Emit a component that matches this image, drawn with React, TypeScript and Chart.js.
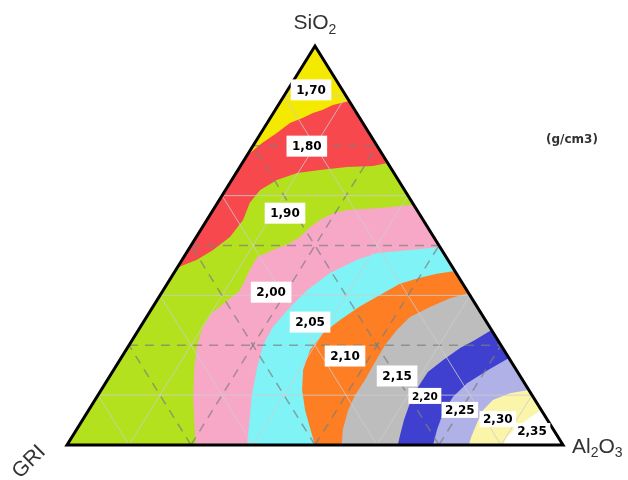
import { useEffect, useRef } from "react";
import { Chart, registerables } from "chart.js";

Chart.register(...registerables);

// Ternary compositions as [Al2O3 %, SiO2 %]; GRI % = 100 - Al2O3 - SiO2
const densityLabels = ["1,70", "1,80", "1,90", "2,00", "2,05", "2,10", "2,15", "2,20", "2,25", "2,30", "2,35"];
const labelPositions = [
  [4.7, 89], [10.9, 74.9], [14.9, 58.1], [22, 38.3], [33.6, 30.8], [44.9, 22.3],
  [57.9, 17.3], [66, 12.3], [74.8, 8.8], [83.6, 6.5], [92, 3.5],
];

// iso-density contour lines (g/cm3)
const contour170 = [[0, 72.5], [1, 74.7], [1.6, 75.9], [3.2, 78.2], [4.6, 80.7], [6.6, 82], [8, 83.2], [9.6, 84], [11, 85.2], [13.8, 86.2]];
const contour180 = [[0, 44.4], [3, 46.4], [5, 48.9], [6.8, 52.1], [7.3, 56.4], [6.5, 60.7], [7, 63.9], [9.1, 66.4], [12.3, 68.2], [16.5, 68.9], [21.6, 69.7], [26.7, 69.9], [29.3, 70.7]];
const contour190 = [[39.8, 60.2], [33.4, 59.4], [27, 58.9], [24.6, 58.1], [22.8, 56.4], [21.7, 54.6], [20.9, 52.1], [19.7, 50.6], [17.1, 48.9], [14.8, 47.1], [14.9, 43.9], [15.5, 38.8], [14, 35.8], [12.7, 33.1], [12.6, 29.6], [13.7, 25.1], [15.9, 19.5], [19.8, 11.3], [24.3, 3], [26, 0]];
const contour200 = [[50.4, 49.6], [44.7, 48.9], [38.5, 48.1], [35.3, 46.4], [31.5, 43.1], [29, 38.8], [27.7, 34.6], [26.7, 29.6], [27, 25.1], [28.6, 19.5], [31, 12.5], [34.2, 5], [36.3, 0]];
const contour205 = [[56.4, 43.6], [53.1, 42.9], [50.2, 41.9], [46.9, 40.4], [44.3, 37.6], [41.7, 34.8], [39.4, 31.3], [37.6, 28.1], [37.1, 23.8], [38.2, 18.8], [40.5, 13.8], [43.6, 8.8], [46.7, 4.5], [50, 0]];
const contour210 = [[61.9, 38.1], [58.8, 36.8], [55.9, 34.6], [53.1, 32.1], [52.1, 28.8], [51.6, 25.1], [51.7, 20.8], [51.9, 16.3], [51.8, 12.5], [52.3, 8.8], [53.7, 3.8], [55.4, 0]];
const contour215 = [[71.2, 28.8], [69.1, 26.3], [67.1, 24.3], [65.2, 21.3], [63.6, 18.3], [63.5, 14.5], [63.9, 10.5], [64.8, 6.3], [65.9, 2.5], [66.7, 0]];
const contour220 = [[78.2, 21.8], [75.5, 18.8], [72.9, 15.5], [71.8, 12], [71.8, 8], [72.7, 3.8], [73.8, 0]];
const contour225 = [[86.2, 13.8], [82.8, 13], [80.2, 11.3], [79.5, 8.8], [79.9, 5.5], [80.5, 2], [81, 0]];
const contour230 = [[91.2, 8.8], [89.9, 6.8], [88.5, 4.5], [87.7, 2], [87.9, 0]];

const vertexGRI = [0, 0];
const vertexAl2O3 = [100, 0];
const vertexSiO2 = [0, 100];

const gridLevels = [12.5, 25, 37.5, 50, 62.5, 75, 87.5];

const bandColors = {
  base: "#b3e11e",
  c180: "#f7484d",
  c170: "#f4e900",
  c190: "#f8a8c7",
  c200: "#80f3f7",
  c205: "#fd7e23",
  c210: "#bdbdbd",
  c215: "#3f40cf",
  c220: "#afb1e7",
  c225: "#fbf5a9",
  c230: "#ffffff",
};

const toXY = (p: number[]) => ({ x: p[0] + p[1] / 2, y: p[1] });

function buildDatasets() {
  const polys: { pts: number[][]; color: string }[] = [
    { pts: [vertexGRI, vertexAl2O3, vertexSiO2], color: bandColors.base },
    { pts: [vertexSiO2, ...contour180], color: bandColors.c180 },
    { pts: [vertexSiO2, ...contour170], color: bandColors.c170 },
    { pts: [...contour190, vertexAl2O3], color: bandColors.c190 },
    { pts: [...contour200, vertexAl2O3], color: bandColors.c200 },
    { pts: [...contour205, vertexAl2O3], color: bandColors.c205 },
    { pts: [...contour210, vertexAl2O3], color: bandColors.c210 },
    { pts: [...contour215, vertexAl2O3], color: bandColors.c215 },
    { pts: [...contour220, vertexAl2O3], color: bandColors.c220 },
    { pts: [...contour225, vertexAl2O3], color: bandColors.c225 },
    { pts: [...contour230, vertexAl2O3], color: bandColors.c230 },
  ];
  const layers: any[] = polys.map((p) => ({
    data: p.pts.map(toXY),
    backgroundColor: p.color,
    borderColor: "rgba(0,0,0,0)",
    borderWidth: 0,
    fill: "shape",
    pointRadius: 0,
    tension: 0,
  }));
  // ternary grid lines
  gridLevels.forEach((v, k) => {
    const dashed = k % 2 === 1;
    const style = {
      borderColor: dashed ? "rgba(125,125,125,0.7)" : "rgba(205,205,205,0.8)",
      borderWidth: dashed ? 1.5 : 1,
      borderDash: dashed ? [9, 7] : [],
      fill: false,
      pointRadius: 0,
    };
    const lines = [
      [[0, v], [100 - v, v]], // constant SiO2
      [[v, 0], [v, 100 - v]], // constant Al2O3
      [[100 - v, 0], [0, 100 - v]], // constant GRI
    ];
    lines.forEach((l) => layers.push({ data: l.map(toXY), ...style }));
  });
  // triangle border
  layers.push({
    data: [vertexGRI, vertexAl2O3, vertexSiO2, vertexGRI, vertexAl2O3].map(toXY),
    borderColor: "#000",
    borderWidth: 3,
    borderJoinStyle: "miter",
    fill: false,
    pointRadius: 0,
    clip: false,
  });
  const n = layers.length;
  return layers.map((d, i) => ({ ...d, order: n - i }));
}

const labelPlugin = {
  id: "ternaryLabels",
  afterDatasetsDraw(chart: any) {
    const { ctx, scales } = chart;
    const xs = scales.x;
    const ys = scales.y;
    const px = (p: number[]) => xs.getPixelForValue(p[0] + p[1] / 2);
    const py = (p: number[]) => ys.getPixelForValue(p[1]);
    ctx.save();
    ctx.textAlign = "center";
    ctx.textBaseline = "middle";
    densityLabels.forEach((txt, i) => {
      const p = labelPositions[i];
      const tiny = i === 7;
      const low = i >= 7;
      ctx.font = `bold ${tiny ? 10.5 : 12}px "DejaVu Sans"`;
      const w = ctx.measureText(txt).width + (low ? 7 : 11);
      const h = low ? 16 : 21;
      const cx = px(p);
      const cy = py(p);
      ctx.fillStyle = "#ffffff";
      ctx.fillRect(cx - w / 2, cy - h / 2, w, h);
      ctx.fillStyle = "#000000";
      ctx.fillText(txt, cx, cy + 1);
    });

    // axis titles
    ctx.textAlign = "left";
    ctx.textBaseline = "alphabetic";
    ctx.fillStyle = "#333333";
    const main = '21px "Liberation Sans"';
    const sub = '14px "Liberation Sans"';
    // SiO2 above the apex
    const ax = px(vertexSiO2);
    const ay = py(vertexSiO2);
    ctx.font = main;
    const wSiO = ctx.measureText("SiO").width;
    ctx.font = sub;
    const w2 = ctx.measureText("2").width;
    const x0 = ax - (wSiO + w2) / 2;
    ctx.font = main;
    ctx.fillText("SiO", x0, ay - 17);
    ctx.font = sub;
    ctx.fillText("2", x0 + wSiO, ay - 12);
    // Al2O3 at the right vertex
    const bx = px(vertexAl2O3) + 9;
    const by = py(vertexAl2O3) + 8;
    ctx.font = main;
    ctx.fillText("Al", bx, by);
    let cx = bx + ctx.measureText("Al").width;
    ctx.font = sub;
    ctx.fillText("2", cx, by + 4);
    cx += ctx.measureText("2").width;
    ctx.font = main;
    ctx.fillText("O", cx, by);
    cx += ctx.measureText("O").width;
    ctx.font = sub;
    ctx.fillText("3", cx, by + 4);
    // GRI rotated at the left vertex
    const gx = px(vertexGRI) - 38;
    const gy = py(vertexGRI) + 17;
    ctx.save();
    ctx.translate(gx, gy);
    ctx.rotate(-Math.PI / 4);
    ctx.textAlign = "center";
    ctx.textBaseline = "middle";
    ctx.font = main;
    ctx.fillText("GRI", 0, 0);
    ctx.restore();
    // unit
    ctx.textAlign = "center";
    ctx.textBaseline = "middle";
    ctx.font = 'bold 12px "DejaVu Sans"';
    ctx.fillText("(g/cm3)", 572, 140);
    ctx.restore();
  },
};

export default function App() {
  const ref = useRef<HTMLCanvasElement | null>(null);
  useEffect(() => {
    if (!ref.current) return;
    const chart = new Chart(ref.current, {
      type: "line",
      data: { datasets: buildDatasets() as any },
      options: {
        animation: false,
        responsive: true,
        maintainAspectRatio: false,
        events: [],
        layout: { padding: { left: 67, right: 65, top: 46, bottom: 35 } },
        scales: {
          x: { type: "linear", min: 0, max: 100, display: false },
          y: { type: "linear", min: 0, max: 100, display: false },
        },
        plugins: {
          legend: { display: false },
          tooltip: { enabled: false },
        },
      } as any,
      plugins: [labelPlugin],
    });
    return () => chart.destroy();
  }, []);
  return (
    <div style={{ position: "absolute", left: 0, top: 0, width: 628, height: 480, background: "#fff" }}>
      <canvas ref={ref} />
    </div>
  );
}
